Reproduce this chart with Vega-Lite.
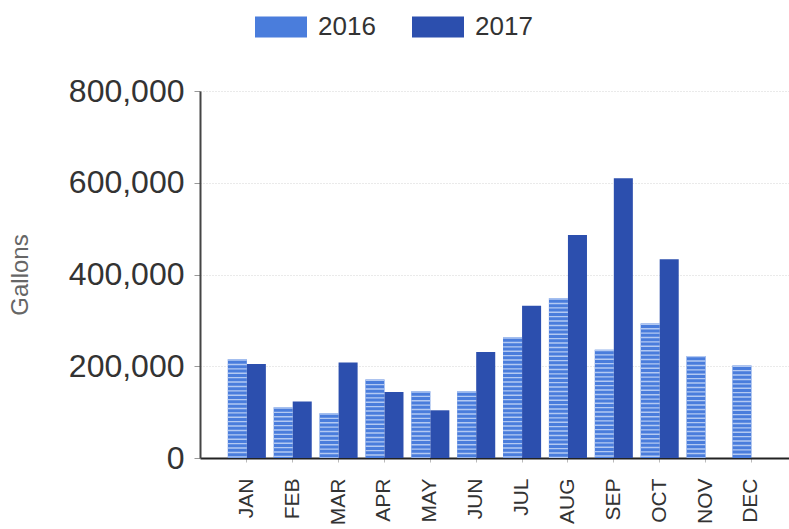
{
  "$schema": "https://vega.github.io/schema/vega-lite/v6.json",
  "autosize": {"type": "none"},
  "padding": {"left": 200, "top": 91, "right": 0, "bottom": 71},
  "width": 589,
  "height": 367,
  "background": "white",
  "config": {
    "font": "Liberation Sans",
    "view": {"stroke": null}
  },
  "data": {
    "values": [
      {"month": "JAN", "year": "2016", "gallons": 215000},
      {"month": "JAN", "year": "2017", "gallons": 205000},
      {"month": "FEB", "year": "2016", "gallons": 110500},
      {"month": "FEB", "year": "2017", "gallons": 123000},
      {"month": "MAR", "year": "2016", "gallons": 97500},
      {"month": "MAR", "year": "2017", "gallons": 208000},
      {"month": "APR", "year": "2016", "gallons": 171000},
      {"month": "APR", "year": "2017", "gallons": 144000},
      {"month": "MAY", "year": "2016", "gallons": 145500},
      {"month": "MAY", "year": "2017", "gallons": 104000},
      {"month": "JUN", "year": "2016", "gallons": 145500},
      {"month": "JUN", "year": "2017", "gallons": 231000},
      {"month": "JUL", "year": "2016", "gallons": 263000},
      {"month": "JUL", "year": "2017", "gallons": 332000},
      {"month": "AUG", "year": "2016", "gallons": 348000},
      {"month": "AUG", "year": "2017", "gallons": 486000},
      {"month": "SEP", "year": "2016", "gallons": 236000},
      {"month": "SEP", "year": "2017", "gallons": 610000},
      {"month": "OCT", "year": "2016", "gallons": 293000},
      {"month": "OCT", "year": "2017", "gallons": 433000},
      {"month": "NOV", "year": "2016", "gallons": 222500},
      {"month": "DEC", "year": "2016", "gallons": 201500}
    ]
  },
  "encoding": {
    "x": {
      "field": "month",
      "type": "nominal",
      "sort": ["JAN", "FEB", "MAR", "APR", "MAY", "JUN", "JUL", "AUG", "SEP", "OCT", "NOV", "DEC"],
      "scale": {"paddingInner": 0.17, "paddingOuter": 0.505, "align": 0.6},
      "axis": {
        "title": null,
        "labelAngle": -90,
        "labelAlign": "right",
        "labelBaseline": "middle",
        "labelFontSize": 21,
        "labelColor": "#333333",
        "labelPadding": 16,
        "domainColor": "#222222",
        "domainWidth": 2,
        "tickColor": "#bbbbbb",
        "tickSize": 4
      }
    },
    "xOffset": {"field": "year", "type": "nominal", "scale": {"paddingInner": 0, "paddingOuter": 0}},
    "y": {
      "field": "gallons",
      "type": "quantitative",
      "scale": {"domain": [0, 800000], "nice": false},
      "axis": {
        "title": "Gallons",
        "titleFontSize": 24,
        "titleFontWeight": "normal",
        "titleColor": "#666666",
        "titlePadding": 36,
        "values": [0, 200000, 400000, 600000, 800000],
        "format": ",d",
        "labelFontSize": 32,
        "labelColor": "#333333",
        "labelPadding": 10,
        "tickSize": 6,
        "tickColor": "#999999",
        "domainColor": "#444444",
        "domainWidth": 2,
        "gridColor": "#d4d4d4",
        "gridDash": [1, 2]
      }
    }
  },
  "layer": [
    {
      "mark": {"type": "bar"},
      "encoding": {
        "color": {
          "field": "year",
          "type": "nominal",
          "scale": {"domain": ["2016", "2017"], "range": ["#4a7ddc", "#2c4fae"]},
          "legend": {
            "title": null,
            "orient": "none",
            "direction": "horizontal",
            "legendX": 55,
            "legendY": -90,
            "symbolType": "M-1,-0.4H1V0.4H-1Z",
            "symbolSize": 2704,
            "symbolStrokeWidth": 0,
            "symbolOpacity": 1,
            "labelFontSize": 26,
            "labelColor": "#333333",
            "labelOffset": 11,
            "columnPadding": 36
          }
        }
      }
    },
    {
      "transform": [{"filter": "datum.year == '2016'"}],
      "mark": {"type": "rule", "color": "#b3c9f2", "strokeWidth": 19, "strokeDash": [1.4, 3], "strokeCap": "butt"},
      "encoding": {
        "y2": {"datum": 0}
      }
    }
  ]
}
